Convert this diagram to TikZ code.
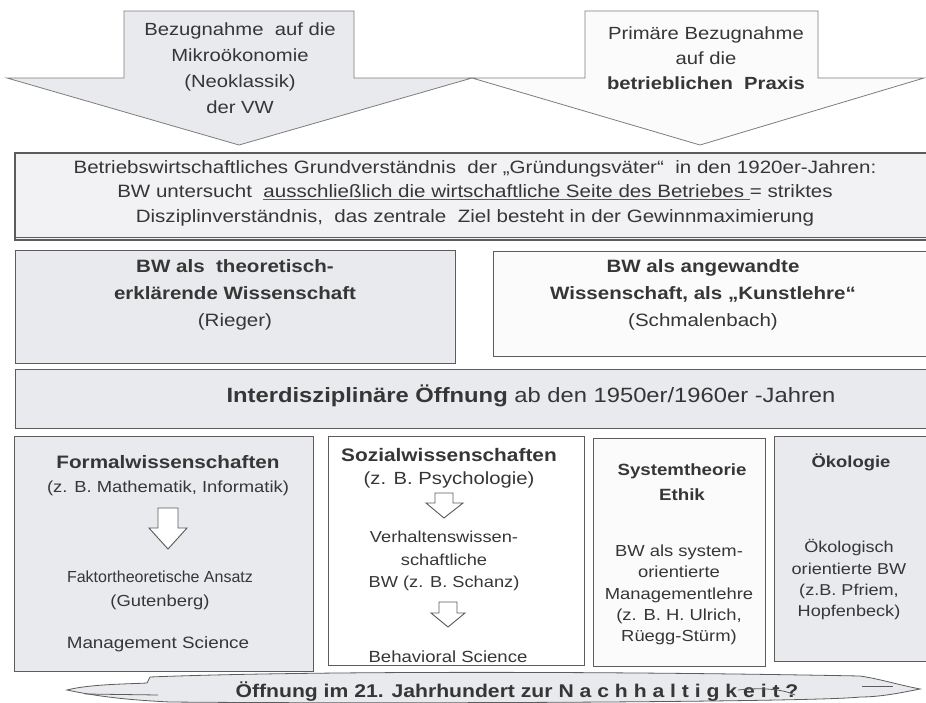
\documentclass[tikz,border=0pt]{standalone}
\usepackage{fontspec}
\setmainfont[FakeStretch=1.15]{Liberation Sans}
\newfontfamily\plainsans{Liberation Sans}
\usepackage[HTML]{xcolor}
\usetikzlibrary{positioning}

\definecolor{boxgray}{HTML}{E9EAED}
\definecolor{boxwhite}{HTML}{FBFBFB}
\definecolor{headgray}{HTML}{F2F2F4}
\definecolor{linegray}{HTML}{5C5C5C}
\definecolor{textgray}{HTML}{363636}

\newsavebox{\ulbox}
\newcommand{\grayuline}[1]{\sbox{\ulbox}{#1}\rlap{\textcolor{linegray}{\rule[-0.28ex]{\wd\ulbox}{1.1pt}}}\usebox{\ulbox}}
\newcommand{\pxu}{0.75pt}

\tikzset{
  panel/.style={draw=linegray, line width=0.8pt, anchor=north west, inner sep=0pt},
  txt/.style={text=textgray, align=center, inner sep=0pt},
  arrowhollow/.style={draw=linegray, line width=0.7pt, fill=white, line join=miter},
  bigarrow/.style={draw=linegray!80, line width=0.6pt, line join=miter},
}

\begin{document}
\begin{tikzpicture}[x=0.75pt, y=-0.75pt]
\useasboundingbox (0,0) rectangle (926,703);
\fill[white] (0,0) rectangle (926,703);

% top arrows
\draw[bigarrow, fill=boxgray] (124,11) -- (354,11) -- (354,78) -- (472,78) -- (239,145) -- (7,78) -- (124,78) -- cycle;
\draw[bigarrow, fill=boxwhite] (585,11) -- (818,11) -- (818,78) -- (924,78) -- (700,145) -- (472,78) -- (585,78) -- cycle;
\node[txt, font=\fontsize{13.2}{19.5}\selectfont] (mikro) at (240,68)
  {Bezugnahme~ auf die\\Mikroökonomie\\(Neoklassik)\\der VW};
\node[txt, font=\fontsize{13.2}{18.8}\selectfont] (praxis) at (706,58)
  {Primäre Bezugnahme\\auf die\\\textbf{betrieblichen~ Praxis}};

% foundation box
\node[panel, fill=headgray, line width=1.4pt, minimum width=918*\pxu, minimum height=87*\pxu] (grund) at (14,152) {};
\draw[linegray, line width=0.7pt] (grund.south west) ++(0,-3) -- ++(918,0);
\node[txt, font=\fontsize{13.4}{18.4}\selectfont] (grundtxt) at (475,193)
  {Betriebswirtschaftliches Grundverständnis~ der „Gründungsväter“~ in den 1920er-Jahren:\\
   BW untersucht~ \grayuline{ausschließlich die wirtschaftliche Seite des Betriebes~}= striktes\\
   Disziplinverständnis,~ das zentrale~ Ziel besteht in der Gewinnmaximierung};

% two views
\node[panel, fill=boxgray, minimum width=440*\pxu, minimum height=113*\pxu] (theorie) at (15,250) {};
\node[txt, font=\fontsize{13.4}{20.3}\selectfont] (theorietxt) at (235,295)
  {\textbf{BW als~ theoretisch-}\\\textbf{erklärende Wissenschaft}\\(Rieger)};
\node[panel, fill=boxwhite, minimum width=440*\pxu, minimum height=105*\pxu] (kunst) at (493,251) {};
\node[txt, font=\fontsize{13.4}{20}\selectfont] (kunsttxt) at (703,295)
  {\textbf{BW als angewandte}\\\textbf{Wissenschaft, als „Kunstlehre“}\\(Schmalenbach)};

% opening
\node[panel, fill=boxgray, minimum width=917*\pxu, minimum height=59*\pxu] (oeffnung) at (15,369) {};
\node[txt, font=\fontsize{15.5}{17}\selectfont] (oeffnungtxt) at (531,396)
  {\textbf{Interdisziplinäre Öffnung} ab den 1950er/1960er -Jahren};

% disciplines
\node[panel, fill=boxgray, minimum width=299*\pxu, minimum height=235*\pxu] (formal) at (14,436) {};
\node[panel, fill=white, minimum width=256*\pxu, minimum height=229*\pxu] (sozial) at (328,436) {};
\node[panel, fill=boxwhite, minimum width=172*\pxu, minimum height=228*\pxu] (system) at (593,438) {};
\node[panel, fill=boxgray, minimum width=158*\pxu, minimum height=225*\pxu] (oeko) at (774,436) {};

\node[txt, font=\fontsize{13.5}{15}\selectfont\bfseries] (formalhead) at (168,462) {Formalwissenschaften};
\node[txt, font=\fontsize{12}{14}\selectfont] (formalsub) at (168,488) {(z. B. Mathematik, Informatik)};
\draw[arrowhollow] (158,508) -- (178,508) -- (178,528) -- (187,528) -- (168,549) -- (149,528) -- (158,528) -- cycle;
\node[txt, font=\fontsize{12}{18}\selectfont] (faktor) at (160,590) {{\plainsans Faktortheoretische Ansatz}\\(Gutenberg)};
\node[txt, font=\fontsize{12.3}{14}\selectfont] (mgmt) at (158,644) {Management Science};

\node[txt, font=\fontsize{13.6}{15}\selectfont\bfseries] (sozialhead) at (449,455) {Sozialwissenschaften};
\node[txt, font=\fontsize{13.2}{15}\selectfont] (sozialsub) at (449,480) {(z. B. Psychologie)};
\draw[arrowhollow] (435,493) -- (453,493) -- (453,503) -- (463,503) -- (444,518) -- (426,503) -- (435,503) -- cycle;
\node[txt, font=\fontsize{11.9}{16.9}\selectfont] (verhalten) at (444,561) {Verhaltenswissen-\\schaftliche\\BW (z. B. Schanz)};
\draw[arrowhollow] (439,602) -- (457,602) -- (457,613) -- (465,613) -- (448,627) -- (431,613) -- (439,613) -- cycle;
\node[txt, font=\fontsize{12.1}{14}\selectfont] (behavior) at (448,657) {Behavioral Science};

\node[txt, font=\fontsize{12.2}{18.8}\selectfont\bfseries] (systemhead) at (682,482) {Systemtheorie\\Ethik};
\node[txt, font=\fontsize{12}{16}\selectfont] (systemtxt) at (679,595)
  {BW als system-\\orientierte\\Managementlehre\\(z. B. H. Ulrich,\\Rüegg-Stürm)};

\node[txt, font=\fontsize{12}{14}\selectfont\bfseries] (oekohead) at (851,462) {Ökologie};
\node[txt, font=\fontsize{11.8}{16}\selectfont] (oekotxt) at (849,580)
  {Ökologisch\\orientierte BW\\(z.B. Pfriem,\\Hopfenbeck)};

% outlook scroll
\draw[linegray, line width=0.6pt, fill=boxgray]
  (67,690) .. controls (90,684) and (130,684) .. (147,683) -- (150,677)
  .. controls (300,671) and (600,671) .. (860,676)
  .. controls (880,679) and (895,684) .. (920,689)
  .. controls (900,693) and (880,697) .. (860,697)
  .. controls (820,702) and (400,704) .. (170,702)
  .. controls (130,700) and (100,697) .. (67,690) -- cycle;
\draw[linegray, line width=0.6pt] (85,694) -- (158,695);
\draw[linegray, line width=0.6pt] (862,686) -- (893,686);
\node[txt, font=\fontsize{13.8}{15}\selectfont\bfseries] (zukunft) at (517,692)
  {Öffnung im 21. Jahrhundert zur N a c h h a l t i g k e i t ?};
\draw[linegray, line width=0.6pt] (738,690) .. controls (765,687) and (785,690) .. (795,695);
\end{tikzpicture}
\end{document}
